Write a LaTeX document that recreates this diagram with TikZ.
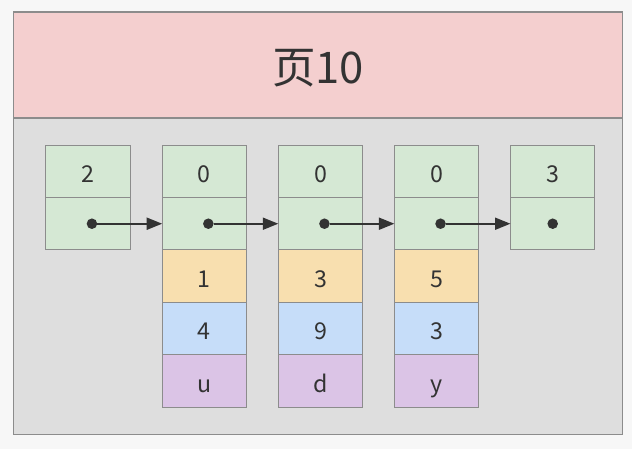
\documentclass[tikz,border=0pt]{standalone}
\usepackage{fontspec}
\setmainfont{Noto Sans CJK SC}
\usetikzlibrary{positioning,arrows.meta}
\definecolor{pagepink}{HTML}{F4CFCF}
\definecolor{pagegray}{HTML}{DEDEDE}
\definecolor{rowgreen}{HTML}{D5E8D4}
\definecolor{roworange}{HTML}{F8DFAF}
\definecolor{rowblue}{HTML}{C6DDF9}
\definecolor{rowpurple}{HTML}{DBC4E6}
\definecolor{linegray}{HTML}{8C8C8C}
\definecolor{inkgray}{HTML}{333333}

\begin{document}
\begin{tikzpicture}[x=0.025cm, y=-0.025cm,
  font=\fontsize{16.5}{18}\selectfont,
  frame/.style={draw=linegray, line width=0.8pt, minimum width=15.2cm, inner sep=0pt, outer sep=0pt},
  cell/.style={draw=linegray, line width=0.8pt, minimum width=2.11cm, minimum height=1.31cm,
               inner sep=0pt, outer sep=0pt, text=inkgray, text height=16pt, text depth=0pt},
  keycell/.style={cell, fill=rowgreen},
  cola/.style={cell, fill=roworange},
  colb/.style={cell, fill=rowblue},
  colc/.style={cell, fill=rowpurple},
  dot/.style={circle, fill=inkgray, inner sep=0pt, minimum size=7.5pt, text height=, text depth=},
  arr/.style={-{Triangle[length=11pt, width=8.5pt]}, line width=1.4pt, inkgray}]
\useasboundingbox[fill=white!97!black] (0,0) rectangle (632,449);
% page header and body
\node[frame, fill=pagepink, minimum height=2.65cm, text=inkgray, text height=26pt, text depth=0pt,
      font=\fontsize{31}{34}\selectfont] (page) at (318,65) {页10};
\node[frame, fill=pagegray, minimum height=7.9cm, below=0pt of page] (body) {};
% records
\node[keycell] (r1k) at (88,171.3) {2};
\node[keycell, below=0pt of r1k] (r1p) {};
\node[keycell] (r2k) at (204.4,171.3) {0};
\node[keycell, below=0pt of r2k] (r2p) {};
\node[cola, below=0pt of r2p] (r2a) {1};
\node[colb, below=0pt of r2a] (r2b) {4};
\node[colc, below=0pt of r2b] (r2c) {u};
\node[keycell] (r3k) at (320.5,171.3) {0};
\node[keycell, below=0pt of r3k] (r3p) {};
\node[cola, below=0pt of r3p] (r3a) {3};
\node[colb, below=0pt of r3a] (r3b) {9};
\node[colc, below=0pt of r3b] (r3c) {d};
\node[keycell] (r4k) at (436.6,171.3) {0};
\node[keycell, below=0pt of r4k] (r4p) {};
\node[cola, below=0pt of r4p] (r4a) {5};
\node[colb, below=0pt of r4a] (r4b) {3};
\node[colc, below=0pt of r4b] (r4c) {y};
\node[keycell] (r5k) at (552.7,171.3) {3};
\node[keycell, below=0pt of r5k] (r5p) {};
% next pointers
\node[dot] (d1) at ([xshift=2.8pt]r1p.center) {};
\node[dot] (d2) at ([xshift=2.8pt]r2p.center) {};
\node[dot] (d3) at ([xshift=2.8pt]r3p.center) {};
\node[dot] (d4) at ([xshift=2.8pt]r4p.center) {};
\node[dot] (d5) at (r5p.center) {};
\draw[arr] (d1) -- (r2p.west);
\draw[arr] (d2) -- (r3p.west);
\draw[arr] (d3) -- (r4p.west);
\draw[arr] (d4) -- (r5p.west);
\end{tikzpicture}
\end{document}
